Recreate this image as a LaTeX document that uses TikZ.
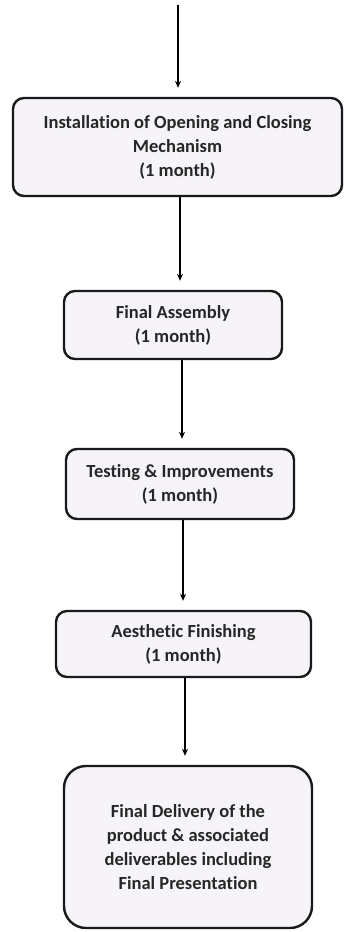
\documentclass[tikz,border=0pt]{standalone}
\usepackage{fontspec}
\setmainfont{Carlito}[Ligatures=NoCommon]
\usepackage{tikz}
\usetikzlibrary{arrows.meta}
\definecolor{boxfill}{rgb}{0.965,0.955,0.975}
\colorlet{boxtext}{black!85}
\tikzstyle{stage}=[draw=black!90,line width=2.4pt,fill=boxfill,rounded corners=11pt,align=center,text=boxtext,font=\bfseries\fontsize{18.5}{24}\selectfont,inner sep=0pt]
\tikzstyle{flow}=[line width=1.3pt,-{Stealth[length=7pt,width=6pt]},shorten >=9pt]

\begin{document}
\begin{tikzpicture}[x=1pt,y=-1pt]
	\useasboundingbox (0,0) rectangle (344,932);
	\node[stage,minimum width=329pt,minimum height=98pt] (install) at (177.5,147)
		{Installation of Opening and Closing\\Mechanism\\(1 month)};
	\node[stage,minimum width=218pt,minimum height=68pt] (assembly) at (173,325)
		{Final Assembly\\(1 month)};
	\node[stage,minimum width=228pt,minimum height=70pt] (testing) at (180,484)
		{Testing \& Improvements\\(1 month)};
	\node[stage,minimum width=255pt,minimum height=66pt] (finish) at (183.5,644)
		{Aesthetic Finishing\\(1 month)};
	\node[stage,rounded corners=22pt,minimum width=248pt,minimum height=162pt] (delivery) at (188,847)
		{Final Delivery of the\\product \& associated\\deliverables including\\Final Presentation};
	% arrows
	\coordinate (top) at (178,5);
	\coordinate (a2) at (180,0);
	\coordinate (a3) at (182,0);
	\coordinate (a4) at (183,0);
	\coordinate (a5) at (185,0);
	\draw[flow] (top) -- (top |- install.north);
	\draw[flow] (install.south -| a2) -- (assembly.north -| a2);
	\draw[flow] (assembly.south -| a3) -- (testing.north -| a3);
	\draw[flow] (testing.south -| a4) -- (finish.north -| a4);
	\draw[flow] (finish.south -| a5) -- (delivery.north -| a5);
\end{tikzpicture}
\end{document}
